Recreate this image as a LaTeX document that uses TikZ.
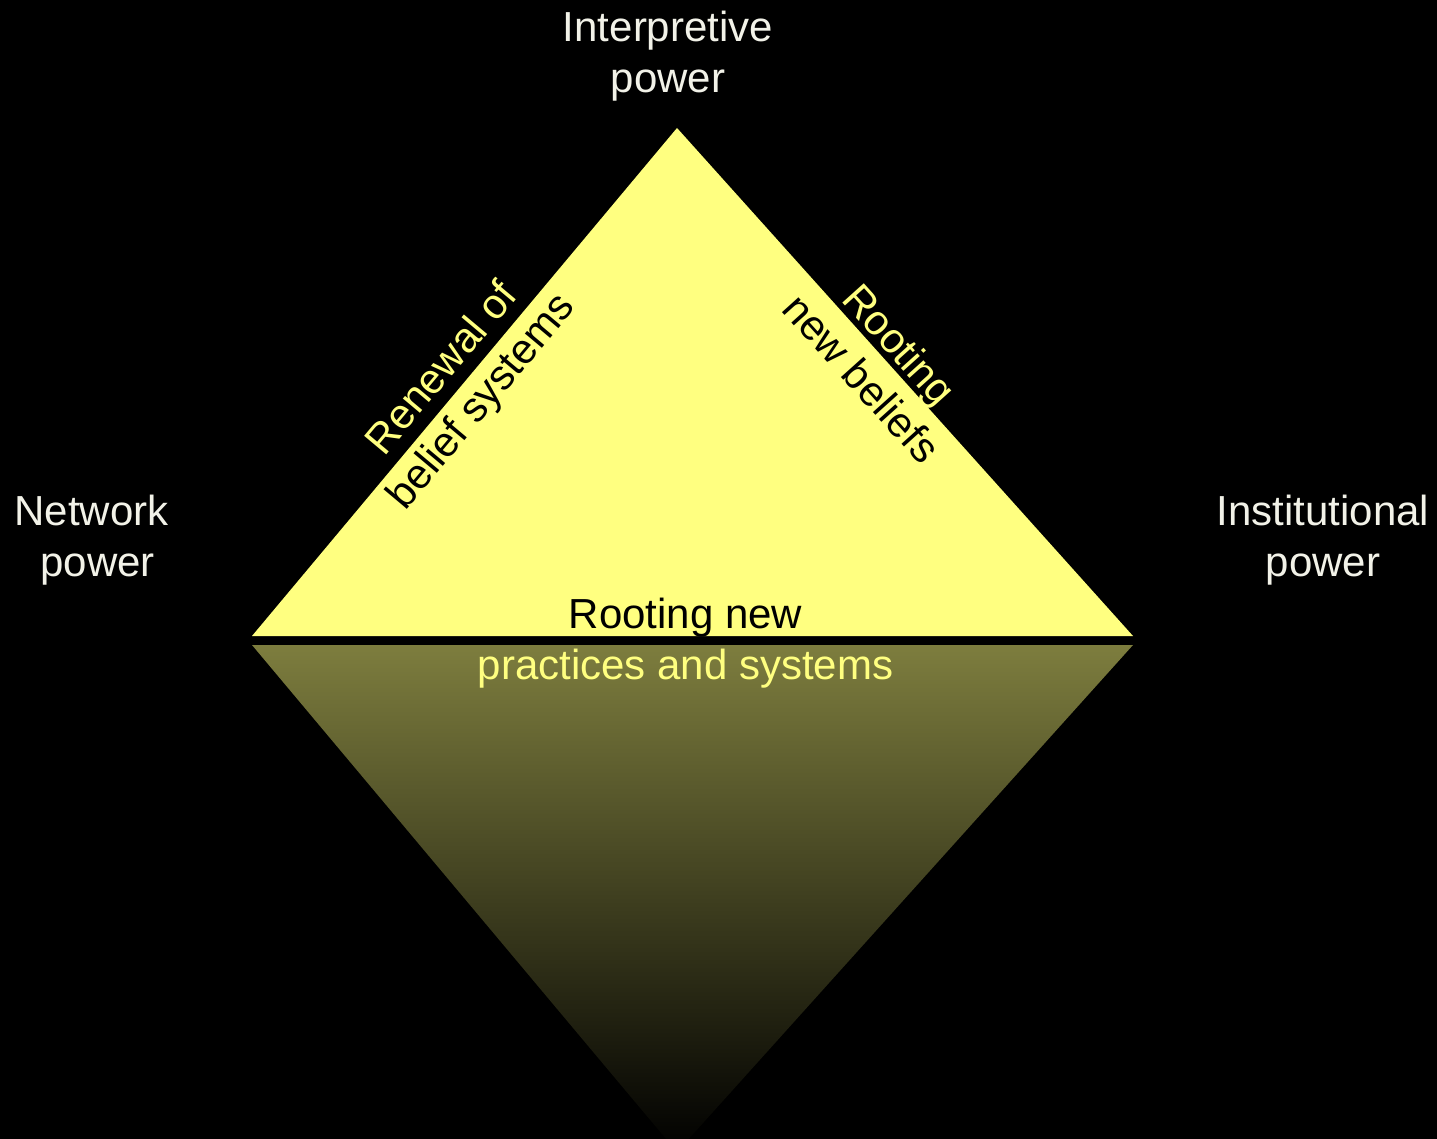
\documentclass[tikz,border=0pt]{standalone}
\usepackage{fontspec}
\setmainfont{Liberation Sans}
\definecolor{tri}{RGB}{255,255,128}
\definecolor{refl}{RGB}{125,125,62}
\definecolor{lbl}{RGB}{242,242,232}
\tikzset{
  lab/.style={font=\fontsize{42}{51}\selectfont, align=center, inner sep=0pt},
  powerlab/.style={lab, text=lbl}
}
\begin{document}
\begin{tikzpicture}[x=1pt,y=-1pt]
\fill[black] (0,0) rectangle (1437,1139);
\useasboundingbox (0,0) rectangle (1437,1139);
% triangle
\coordinate (apex) at (677,128);
\coordinate (bl) at (252,636);
\coordinate (br) at (1133,636);
\fill[tri] (bl) -- (apex) -- (br) -- cycle;
% reflection
\coordinate (rl) at (252,645);
\coordinate (rr) at (1133,645);
\coordinate (rapex) at (677,1152);
\begin{scope}
\clip (0,0) rectangle (1437,1139);
\shade[top color=refl, bottom color=black] (rl) -- (rr) -- (rapex) -- cycle;
\end{scope}
% labels
\node[powerlab] (interp) at (668,56.6) {Interpretive\\power};
\node[powerlab] (network) at (97.5,540) {Network\hspace*{0.278em}\\power};
\node[powerlab] (inst) at (1323,540) {Institutional\\power};
\node[lab] (basetext) at (685.5,643.6) {\textcolor{black}{Rooting new}\\\textcolor{tri}{practices and systems}};
\node[lab, rotate=50] (renew) at (463,386) {\textcolor{tri}{Renewal of}\\\textcolor{black}{belief systems}};
\node[lab, rotate=-48] (rooting) at (881,361) {\textcolor{tri}{Rooting}\\\textcolor{black}{new beliefs}};
\end{tikzpicture}
\end{document}
